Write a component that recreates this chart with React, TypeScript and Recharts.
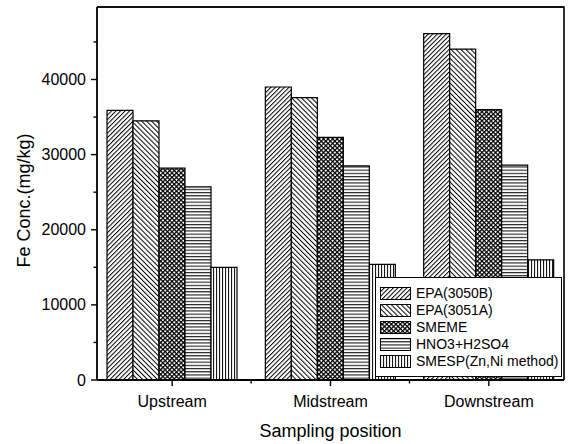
import React from 'react';
import { BarChart, Bar, XAxis, YAxis, ReferenceLine } from 'recharts';

const categories = ['Upstream', 'Midstream', 'Downstream'];
const seriesNames = ['EPA(3050B)', 'EPA(3051A)', 'SMEME', 'HNO3+H2SO4', 'SMESP(Zn,Ni method)'];
const epa3050b = [35900, 39000, 46100];
const epa3051a = [34500, 37600, 44050];
const smeme = [28200, 32300, 36000];
const hno3h2so4 = [25700, 28500, 28600];
const smesp = [15000, 15400, 16000];
const yTicks = [0, 5000, 10000, 15000, 20000, 25000, 30000, 35000, 40000, 45000];
const yMax = 49650;

const seriesValues = [epa3050b, epa3051a, smeme, hno3h2so4, smesp];
const keys = ['s0', 's1', 's2', 's3', 's4'];
const data = categories.map((c, i) => {
  const row: any = { cat: c };
  keys.forEach((k, j) => (row[k] = seriesValues[j][i]));
  return row;
});

const FONT = '"Liberation Sans", Arial, Helvetica, sans-serif';
const CHART_W = 568;
const CHART_H = 444;
const MARGIN = { top: 7, right: 4, bottom: 0, left: 0 };
const Y_AXIS_W = 97;
const X_AXIS_H = 64;

function Patterns({ prefix }: { prefix: string }) {
  return (
    <defs>
      <pattern id={`${prefix}0`} width={3.2} height={3.2} patternUnits="userSpaceOnUse" patternTransform="rotate(45)">
        <rect width={3.2} height={3.2} fill="#fff" />
        <line x1={0.5} y1={0} x2={0.5} y2={3.2} stroke="#000" strokeWidth={1} />
      </pattern>
      <pattern id={`${prefix}1`} width={3.5} height={3.5} patternUnits="userSpaceOnUse" patternTransform="rotate(-45)">
        <rect width={3.5} height={3.5} fill="#fff" />
        <line x1={0.5} y1={0} x2={0.5} y2={3.5} stroke="#000" strokeWidth={1} />
      </pattern>
      <pattern id={`${prefix}2`} width={3.2} height={3.2} patternUnits="userSpaceOnUse" patternTransform="rotate(45)">
        <rect width={3.2} height={3.2} fill="#fff" />
        <line x1={0.6} y1={0} x2={0.6} y2={3.2} stroke="#000" strokeWidth={1.3} />
        <line x1={0} y1={0.6} x2={3.2} y2={0.6} stroke="#000" strokeWidth={1.3} />
      </pattern>
      <pattern id={`${prefix}3`} width={4} height={3.2} patternUnits="userSpaceOnUse">
        <rect width={4} height={3.2} fill="#fff" />
        <line x1={0} y1={0.6} x2={4} y2={0.6} stroke="#000" strokeWidth={1} />
      </pattern>
      <pattern id={`${prefix}4`} width={3} height={4} patternUnits="userSpaceOnUse">
        <rect width={3} height={4} fill="#fff" />
        <line x1={0.6} y1={0} x2={0.6} y2={4} stroke="#000" strokeWidth={1} />
      </pattern>
    </defs>
  );
}

const YTick = (props: any) => {
  const { x, y, payload } = props;
  const v = payload.value as number;
  const major = v % 10000 === 0;
  return (
    <g>
      <line x1={x - (major ? 6 : 3.5)} x2={x} y1={y} y2={y} stroke="#000" strokeWidth={1.4} />
      {major && (
        <text x={x - 11} y={y} dy="0.35em" textAnchor="end" fontSize={16} fontFamily={FONT} fill="#000">
          {v}
        </text>
      )}
    </g>
  );
};

const XTick = (props: any) => {
  const { x, y, payload, index } = props;
  return (
    <g>
      <line x1={x} x2={x} y1={y} y2={y + 6} stroke="#000" strokeWidth={1.4} />
      {index < categories.length - 1 && (
        <line x1={x + 79} x2={x + 79} y1={y} y2={y + 3.5} stroke="#000" strokeWidth={1.4} />
      )}
      <text x={x} y={y + 21} dy="0.35em" textAnchor="middle" fontSize={16} fontFamily={FONT} fill="#000">
        {payload.value}
      </text>
    </g>
  );
};

const YLabel = (props: any) => {
  const vb = props.viewBox || { x: 0, y: 0, width: 0, height: 0 };
  const cx = vb.x + 24;
  const cy = vb.y + vb.height / 2 + 7;
  return (
    <text x={cx} y={cy} transform={`rotate(-90 ${cx} ${cy})`} textAnchor="middle" dy="0.35em" fontSize={18} fontFamily={FONT} fill="#000">
      Fe Conc.(mg/kg)
    </text>
  );
};

function PlotFrame() {
  const left = MARGIN.left + Y_AXIS_W;
  const top = MARGIN.top;
  const right = CHART_W - MARGIN.right;
  const bottom = CHART_H - MARGIN.bottom - X_AXIS_H;
  return (
    <svg
      width={CHART_W}
      height={CHART_H}
      style={{ position: 'absolute', left: 0, top: 0, pointerEvents: 'none', zIndex: 5 }}
    >
      <polyline
        points={`${left},${top} ${right},${top} ${right},${bottom}`}
        fill="none"
        stroke="#000"
        strokeWidth={1.6}
      />
    </svg>
  );
}

function LegendBox() {
  return (
    <div
      style={{
        position: 'absolute',
        left: 375,
        top: 277,
        width: 187,
        height: 100,
        border: '1.5px solid #000',
        background: '#fff',
        fontFamily: FONT,
        fontSize: 14,
        color: '#000',
        boxSizing: 'border-box',
        paddingTop: 7,
        zIndex: 6,
      }}
    >
      {seriesNames.map((n, i) => (
        <div key={n} style={{ display: 'flex', alignItems: 'center', height: 17, paddingLeft: 4 }}>
          <svg width={31} height={13} style={{ marginRight: 5 }}>
            <Patterns prefix={`lg${i}_`} />
            <rect x={0.5} y={0.5} width={30} height={12} fill={`url(#lg${i}_${i})`} stroke="#000" strokeWidth={1} />
          </svg>
          <span style={{ whiteSpace: 'nowrap', lineHeight: '17px' }}>{n}</span>
        </div>
      ))}
    </div>
  );
}

export default function App() {
  return (
    <div style={{ position: 'absolute', left: 0, top: 0, width: CHART_W, height: CHART_H, background: '#fff' }}>
      <BarChart
        width={CHART_W}
        height={CHART_H}
        data={data}
        margin={MARGIN}
        barGap={0}
        barSize={26}
      >
        <Patterns prefix="pt" />
        <XAxis
          dataKey="cat"
          height={X_AXIS_H}
          padding={{ left: -4, right: -4 }}
          tick={<XTick />}
          tickLine={false}
          tickSize={0}
          tickMargin={0}
          interval={0}
          axisLine={{ stroke: '#000', strokeWidth: 1.8 }}
          label={{ value: 'Sampling position', position: 'insideBottom', offset: 7, fontSize: 18, fontFamily: FONT, fill: '#000' }}
        />
        <YAxis
          width={Y_AXIS_W}
          domain={[0, yMax]}
          ticks={yTicks}
          interval={0}
          allowDataOverflow
          tick={<YTick />}
          tickLine={false}
          tickSize={0}
          tickMargin={0}
          axisLine={{ stroke: '#000', strokeWidth: 1.8 }}
          label={<YLabel />}
        />
        <ReferenceLine y={yMax} stroke="#000" strokeWidth={1.6} ifOverflow="visible" />
        {keys.map((k, i) => (
          <Bar
            key={k}
            dataKey={k}
            name={seriesNames[i]}
            fill={`url(#pt${i})`}
            stroke="#000"
            strokeWidth={1.2}
            isAnimationActive={false}
          />
        ))}
      </BarChart>
      <PlotFrame />
      <LegendBox />
    </div>
  );
}
